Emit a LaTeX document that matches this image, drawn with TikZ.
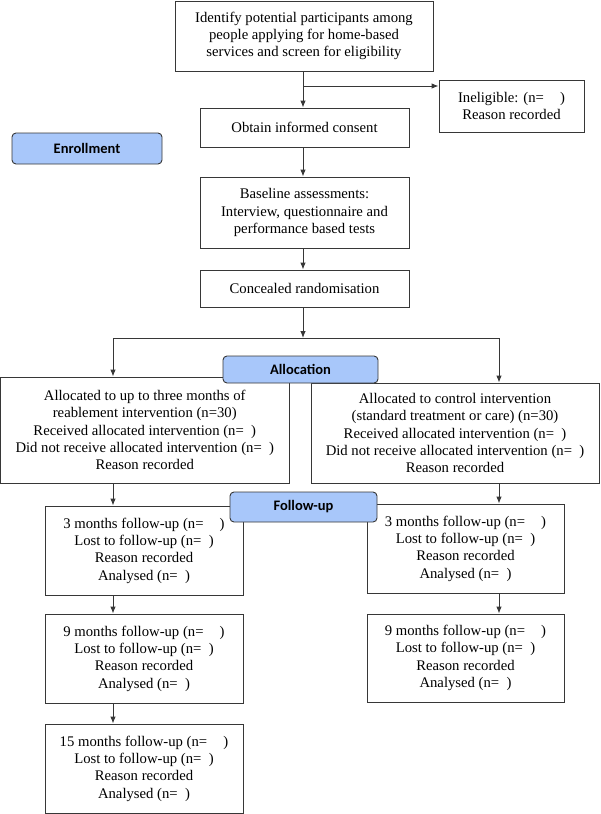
\documentclass[tikz,border=0pt]{standalone}
\usepackage{fontspec}
\setmainfont{Liberation Serif}
\newfontfamily\labfont{Carlito}
\usetikzlibrary{arrows.meta}
\definecolor{labblue}{RGB}{168,199,250}
\definecolor{edge}{RGB}{55,55,55}
\tikzset{
  box/.style={draw=edge, line width=0.9pt, fill=white, align=center, inner sep=0pt,
    font=\fontsize{14.7}{17.3}\selectfont},
  lab/.style={draw=edge, line width=0.9pt, fill=labblue, rounded corners=4pt, inner sep=0pt,
    font=\labfont\bfseries\fontsize{14.5}{16}\selectfont},
  arr/.style={draw=edge, line width=0.9pt, -{Latex[length=7pt,width=5.5pt]}},
  ln/.style={draw=edge, line width=0.9pt}
}
\newcommand{\gap}[1]{\hspace*{#1}}
\begin{document}
\begin{tikzpicture}[x=1pt,y=-1pt]
\useasboundingbox (0,0) rectangle (600,814);
\node[box, minimum width=258, minimum height=70] (top) at (304,36)
  {Identify potential participants among\\people applying for home-based\\services and screen for eligibility};
\node[box, minimum width=145, minimum height=52] (inel) at (511.5,106)
  {Ineligible: (n=\gap{1.1em})\\Reason recorded};
\node[box, minimum width=209, minimum height=39] (consent) at (304.5,127.5)
  {Obtain informed consent};
\node[lab, minimum width=150, minimum height=31] (enrol) at (87,148.5) {Enrollment};
\node[box, minimum width=209, minimum height=71] (base) at (304.5,212.5)
  {Baseline assessments:\\Interview, questionnaire and\\performance based tests};
\node[box, minimum width=209, minimum height=37] (rand) at (304.5,288.5)
  {Concealed randomisation};
\node[box, minimum width=288.5, minimum height=106] (la) at (144.75,430)
  {Allocated to up to three months of\\reablement intervention (n=30)\\Received allocated intervention (n=\gap{0.5em})\\Did not receive allocated intervention (n=\gap{0.5em})\\Reason recorded};
\node[box, minimum width=288, minimum height=100] (ra) at (455,433)
  {Allocated to control intervention\\(standard treatment or care) (n=30)\\Received allocated intervention (n=\gap{0.5em})\\Did not receive allocated intervention (n=\gap{0.5em})\\Reason recorded};
\node[lab, minimum width=155, minimum height=27] (alloc) at (300.5,369.5) {Allocation};
\node[box, minimum width=198, minimum height=89] (l3) at (144,550.5)
  {3 months follow-up (n=\gap{1.1em})\\Lost to follow-up (n=\gap{0.5em})\\Reason recorded\\Analysed (n=\gap{0.5em})};
\node[box, minimum width=198, minimum height=89] (l9) at (144,658.5)
  {9 months follow-up (n=\gap{1.1em})\\Lost to follow-up (n=\gap{0.5em})\\Reason recorded\\Analysed (n=\gap{0.5em})};
\node[box, minimum width=198, minimum height=89] (l15) at (144,768.5)
  {15 months follow-up (n=\gap{1.1em})\\Lost to follow-up (n=\gap{0.5em})\\Reason recorded\\Analysed (n=\gap{0.5em})};
\node[box, minimum width=197, minimum height=89] (r3) at (465.5,548.5)
  {3 months follow-up (n=\gap{1.1em})\\Lost to follow-up (n=\gap{0.5em})\\Reason recorded\\Analysed (n=\gap{0.5em})};
\node[box, minimum width=197, minimum height=88] (r9) at (465.5,658)
  {9 months follow-up (n=\gap{1.1em})\\Lost to follow-up (n=\gap{0.5em})\\Reason recorded\\Analysed (n=\gap{0.5em})};
\node[lab, minimum width=147, minimum height=30] (fu) at (303.5,507) {Follow-up};
% connectors
\coordinate (br) at (303,86);
\coordinate (split) at (303,338);
\coordinate (lx) at (113,338);
\coordinate (rx) at (499,338);
\draw[arr] (top.south -| br) -- (consent.north -| br);
\draw[arr] (br) -- (br -| inel.west);
\draw[arr] (consent.south -| br) -- (base.north -| br);
\draw[arr] (base.south -| br) -- (rand.north -| br);
\draw[arr] (rand.south -| split) -- (split);
\draw[ln] (lx) -- (rx);
\draw[arr] (lx) -- (la.north -| lx);
\draw[arr] (rx) -- (ra.north -| rx);
\draw[arr] (la.south -| lx) -- (l3.north -| lx);
\draw[arr] (l3.south -| lx) -- (l9.north -| lx);
\draw[arr] (l9.south -| lx) -- (l15.north -| lx);
\draw[arr] (ra.south -| rx) -- (r3.north -| rx);
\draw[arr] (r3.south -| rx) -- (r9.north -| rx);
\end{tikzpicture}
\end{document}
